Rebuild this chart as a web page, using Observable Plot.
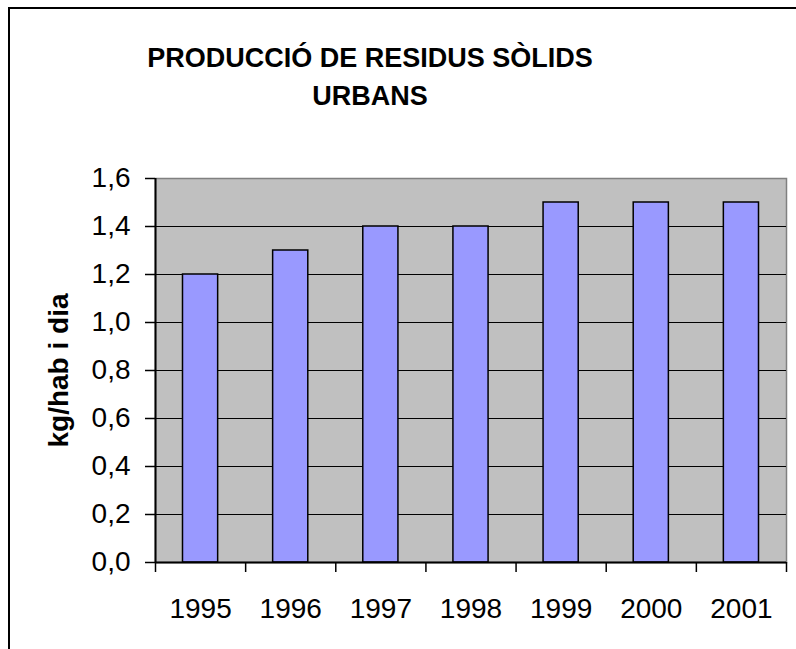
<!DOCTYPE html>
<html><head><meta charset="utf-8">
<script src="https://cdn.jsdelivr.net/npm/d3@7"></script>
<script src="https://cdn.jsdelivr.net/npm/@observablehq/plot@0.6"></script>
<style>
body{margin:0;background:#fff;font-family:"Liberation Sans",Arial,sans-serif;}
#wrap{position:relative;width:796px;height:649px;overflow:hidden;}
#border{position:absolute;left:8px;top:7px;width:820px;height:700px;border-left:2px solid #000;border-top:2px solid #000;}
#title{position:absolute;left:0;width:740px;top:39px;text-align:center;font-weight:bold;font-size:27px;line-height:38px;color:#000;}
#chart{position:absolute;left:0;top:0;}
</style></head>
<body>
<div id="wrap">
<div id="border"></div>
<div id="chart"></div>
<div id="title">PRODUCCIÓ DE RESIDUS SÒLIDS<br>URBANS</div>
</div>
<script>
const years = [1995, 1996, 1997, 1998, 1999, 2000, 2001];
const values = [1.2, 1.3, 1.4, 1.4, 1.5, 1.5, 1.5];
const yTicks = [0, 0.2, 0.4, 0.6, 0.8, 1.0, 1.2, 1.4, 1.6];
const gridTicks = [0.2, 0.4, 0.6, 0.8, 1.0, 1.2, 1.4];
const yLabel = "kg/hab i dia";
const halfBar = 0.195;
const boundaries = [1994.5, 1995.5, 1996.5, 1997.5, 1998.5, 1999.5, 2000.5, 2001.5];
const data = years.map((year, i) => ({year, value: values[i]}));
const font = '"Liberation Sans", Arial, sans-serif';

const chart = Plot.plot({
  width: 796, height: 649,
  marginLeft: 155, marginRight: 10, marginTop: 178, marginBottom: 87,
  style: {fontFamily: font, fontSize: "28px", background: "transparent", color: "#000"},
  x: {type: "linear", domain: [1994.5, 2001.5]},
  y: {domain: [0, 1.6]},
  marks: [
    Plot.frame({fill: "#C0C0C0", stroke: "#808080", strokeWidth: 1.5}),
    Plot.gridY(gridTicks, {stroke: "#000", strokeOpacity: 1, strokeWidth: 1.2}),
    Plot.rectY(data, {x1: d => d.year - halfBar, x2: d => d.year + halfBar, y: "value", fill: "#9999FF", stroke: "#000", strokeWidth: 1.5}),
    Plot.ruleX([1994.5], {stroke: "#000", strokeWidth: 2}),
    Plot.ruleY([0], {stroke: "#000", strokeWidth: 2}),
    Plot.axisY(yTicks, {tickSize: 10, tickPadding: 15, tickFormat: d => d.toFixed(1).replace(".", ","), stroke: "#000", strokeWidth: 1.5, fill: "#000", fontSize: 28, label: null}),
    Plot.axisX(boundaries, {tickSize: 10, tickFormat: () => "", stroke: "#000", strokeWidth: 1.5, label: null}),
    Plot.axisX(years, {tickSize: 0, tickPadding: 36, tickFormat: d => String(d), fill: "#000", fontSize: 28, label: null}),
    Plot.text([yLabel], {text: d => d, frameAnchor: "left", textAnchor: "middle", lineAnchor: "middle", dx: -96, rotate: -90, fontWeight: "bold", fontSize: 28, fill: "#000"})
  ]
});
document.getElementById("chart").appendChild(chart);
</script>
</body></html>
